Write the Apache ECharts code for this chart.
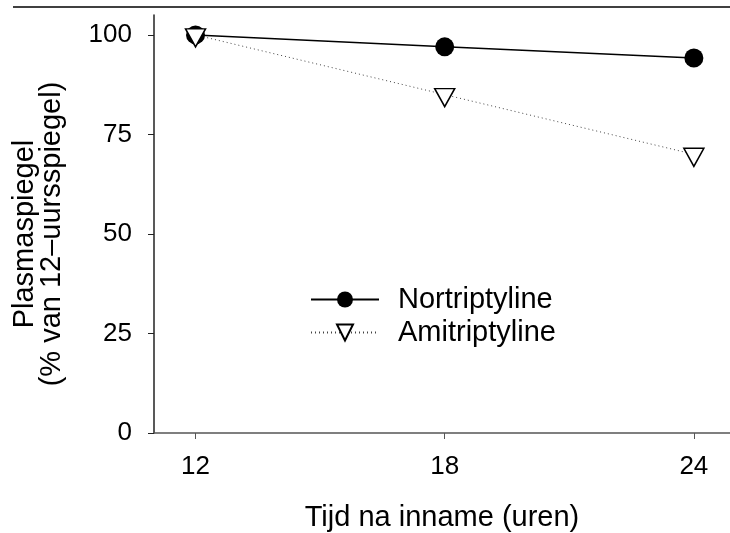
<!DOCTYPE html>
<html>
<head>
<meta charset="utf-8">
<script src="https://cdn.jsdelivr.net/npm/echarts@6/dist/echarts.min.js"></script>
<style>html,body{margin:0;padding:0;background:#fff}#c{width:730px;height:533px}</style>
</head>
<body>
<div id="c"></div>
<script>
const hours = [12, 18, 24];
const nortriptyline = [100, 97, 94.2];
const amitriptyline = [100, 85, 70];
const xTicks = [12, 18, 24];
const yTicks = [0, 25, 50, 75, 100];
const xTitle = 'Tijd na inname (uren)';
const yTitle = 'Plasmaspiegel\n(% van 12–uursspiegel)';
const seriesNames = ['Nortriptyline', 'Amitriptyline'];

const FONT = '"Liberation Sans", Arial, sans-serif';
const chart = echarts.init(document.getElementById('c'), null, {renderer: 'canvas'});
chart.setOption({
  animation: false,
  backgroundColor: '#fff',
  grid: {left: 154, right: 0, top: 15, bottom: 100, containLabel: false, outerBoundsMode: 'none'},
  xAxis: {
    type: 'value', min: 11, max: 24.87,
    axisLine: {show: true, lineStyle: {color: '#555', width: 1.5}},
    axisTick: {show: true, customValues: xTicks, length: 6, lineStyle: {color: '#555', width: 1}},
    axisLabel: {customValues: xTicks, margin: 21, fontSize: 26, color: '#000', fontFamily: FONT},
    splitLine: {show: false},
    name: xTitle, nameLocation: 'middle', nameGap: 70,
    nameTextStyle: {fontSize: 29, color: '#000', fontFamily: FONT}
  },
  yAxis: {
    type: 'value', min: 0, max: 105,
    axisLine: {show: true, lineStyle: {color: '#222', width: 1.5}},
    axisTick: {show: true, customValues: yTicks, length: 6, lineStyle: {color: '#222', width: 1}},
    axisLabel: {customValues: yTicks, margin: 22, fontSize: 26, color: '#000', fontFamily: FONT},
    splitLine: {show: false}
  },
  legend: {
    orient: 'vertical', left: 305, top: 280, itemWidth: 68, itemHeight: 20, itemGap: 4,
    textStyle: {fontSize: 29, color: '#000', fontFamily: FONT, padding: [0, 0, 0, 14]},
    data: seriesNames
  },
  graphic: [
    {type: 'line', shape: {x1: 13, y1: 7, x2: 730, y2: 7}, style: {stroke: '#000', lineWidth: 1.5}},
    {type: 'text', x: 38, y: 234, rotation: Math.PI / 2,
     style: {text: yTitle, align: 'center', verticalAlign: 'middle', fontSize: 29, lineHeight: 27, fontFamily: FONT, fill: '#000'}}
  ],
  series: [
    {
      name: seriesNames[0], type: 'line',
      data: hours.map((h, i) => [h, nortriptyline[i]]),
      symbol: 'circle', symbolSize: 19,
      itemStyle: {color: '#000'},
      lineStyle: {color: '#000', width: 1.5}
    },
    {
      name: seriesNames[1], type: 'line',
      data: hours.map((h, i) => [h, amitriptyline[i]]),
      symbol: 'triangle', symbolRotate: 180, symbolSize: [20, 18], symbolOffset: [0, 3],
      itemStyle: {color: '#fff', borderColor: '#000', borderWidth: 1.5},
      lineStyle: {color: '#444', width: 1, type: [1, 3]}
    }
  ]
});
</script>
</body>
</html>
